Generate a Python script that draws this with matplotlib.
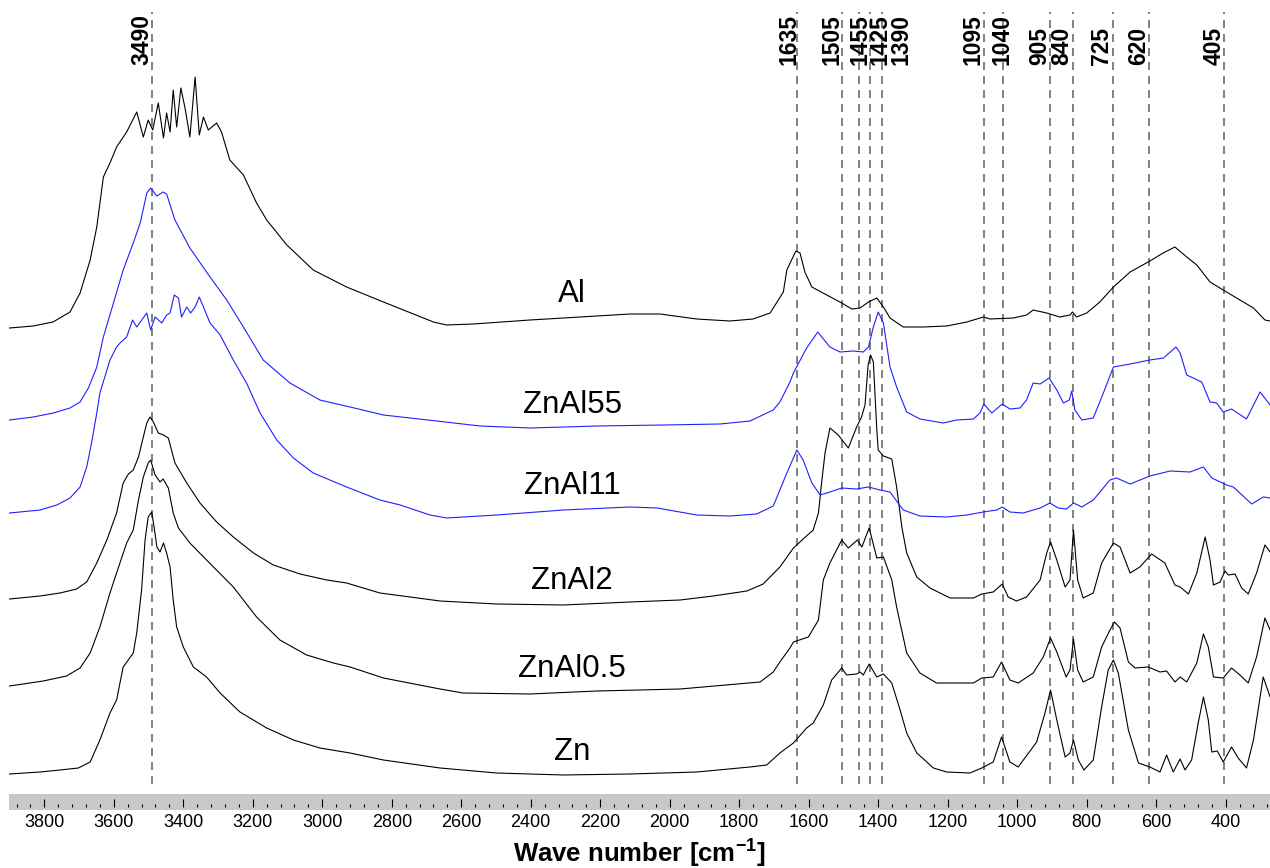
import matplotlib
matplotlib.use("Agg")
import matplotlib.pyplot as plt
from matplotlib.patches import Rectangle
from matplotlib.ticker import MultipleLocator
from matplotlib.transforms import offset_copy

plt.rcParams["font.family"] = "Liberation Sans"
plt.rcParams["mathtext.fontset"] = "custom"
plt.rcParams["mathtext.rm"] = "Liberation Sans"
plt.rcParams["mathtext.bf"] = "Liberation Sans:bold"

# ---------------------------------------------------------------------------
# FTIR spectra (wave number in cm-1, intensity in a.u. above each baseline)
# ---------------------------------------------------------------------------
zn_wn = [3900, 3812, 3755, 3702, 3668, 3640, 3611, 3592, 3573, 3544,
         3534, 3520, 3510, 3501, 3491, 3484, 3476, 3467, 3457, 3448,
         3438, 3429, 3419, 3400, 3371, 3333, 3294, 3237, 3160, 3083,
         3007, 2920, 2824, 2661, 2498, 2306, 2114, 1922, 1769, 1721,
         1683, 1644, 1606, 1587, 1558, 1534, 1505, 1491, 1462, 1452,
         1443, 1426, 1404, 1385, 1361, 1337, 1318, 1289, 1241, 1203,
         1136, 1102, 1069, 1045, 1021, 997, 944, 920, 904, 886,
         862, 848, 838, 824, 808, 781, 757, 738, 723, 709,
         680, 651, 618, 589, 570, 551, 531, 517, 498, 479,
         464, 450, 440, 424, 407, 383, 364, 340, 320, 292,
         272]
zn_int = [0, 2, 4, 6, 12, 34, 61, 74, 107, 121,
          141, 184, 234, 257, 262, 247, 227, 222, 231, 221,
          207, 174, 147, 127, 107, 97, 81, 62, 46, 34,
          26, 21, 14, 6, 1, -1, 0, 2, 7, 9,
          21, 31, 46, 51, 69, 94, 106, 99, 100, 102,
          99, 110, 97, 100, 91, 64, 41, 21, 6, 2,
          1, 6, 12, 37, 12, 7, 32, 61, 84, 54,
          17, 21, 34, 14, 4, 14, 67, 104, 114, 101,
          44, 11, 7, 2, 19, 2, 15, 4, 14, 51,
          77, 54, 22, 23, 12, 27, 16, 6, 34, 97,
          77]

znal05_wn = [3900, 3803, 3736, 3697, 3668, 3640, 3611, 3592, 3563, 3544,
             3529, 3515, 3501, 3494, 3481, 3467, 3458, 3443, 3429, 3414,
             3381, 3333, 3256, 3189, 3122, 3045, 2968, 2920, 2824, 2661,
             2595, 2402, 2210, 1970, 1740, 1702, 1683, 1654, 1644, 1601,
             1577, 1572, 1558, 1539, 1505, 1486, 1460, 1447, 1426, 1404,
             1385, 1361, 1347, 1318, 1280, 1232, 1165, 1126, 1102, 1069,
             1045, 1021, 997, 954, 925, 904, 886, 859, 848, 838,
             826, 810, 781, 757, 733, 720, 704, 680, 661, 623,
             589, 570, 546, 531, 512, 483, 464, 450, 435, 407,
             383, 359, 335, 311, 287, 272]
znal05_int = [0, 5, 10, 18, 33, 59, 93, 113, 143, 156,
              186, 209, 223, 226, 211, 204, 207, 198, 173, 158,
              143, 126, 99, 69, 46, 31, 23, 19, 8, -3,
              -7, -8, -5, -3, 4, 14, 24, 38, 44, 49,
              63, 66, 106, 123, 146, 138, 146, 139, 158, 128,
              129, 106, 79, 33, 13, 3, 3, 3, 8, 9,
              24, 6, 3, 13, 29, 48, 34, 9, 16, 47,
              16, 4, 9, 39, 56, 64, 58, 24, 18, 19,
              14, 15, 4, 9, 4, 23, 52, 39, 9, 8,
              18, 11, 3, 29, 68, 56]

znal2_wn = [3900, 3812, 3755, 3707, 3678, 3649, 3620, 3592, 3573, 3558,
            3544, 3529, 3515, 3505, 3496, 3486, 3472, 3457, 3443, 3424,
            3390, 3352, 3304, 3256, 3198, 3141, 3064, 2987, 2930, 2834,
            2747, 2661, 2498, 2306, 2114, 1970, 1875, 1778, 1731, 1683,
            1644, 1616, 1587, 1572, 1563, 1553, 1539, 1515, 1486, 1462,
            1448, 1438, 1429, 1422, 1414, 1404, 1400, 1385, 1361, 1347,
            1332, 1318, 1289, 1251, 1193, 1126, 1102, 1069, 1043, 1026,
            1002, 973, 934, 915, 904, 886, 862, 848, 838, 826,
            810, 781, 757, 723, 704, 675, 647, 613, 575, 546,
            531, 507, 483, 459, 445, 435, 416, 402, 392, 373,
            354, 335, 311, 287, 272]
znal2_int = [0, 3, 6, 10, 17, 36, 59, 86, 116, 125,
             129, 142, 162, 176, 182, 177, 166, 164, 161, 136,
             116, 96, 77, 62, 46, 34, 25, 19, 16, 6,
             2, -2, -5, -6, -3, -1, 3, 8, 15, 32,
             51, 60, 69, 86, 116, 146, 171, 164, 151, 172,
             182, 194, 234, 244, 237, 169, 149, 143, 140, 112,
             72, 46, 22, 11, 1, 1, 5, 7, 15, 2,
             -2, 2, 19, 46, 57, 39, 12, 19, 69, 19,
             1, 6, 36, 56, 52, 26, 32, 45, 36, 14,
             12, 5, 26, 62, 39, 14, 17, 28, 24, 25,
             11, 5, 26, 54, 47]

znal11_wn = [3900, 3812, 3764, 3726, 3697, 3678, 3664, 3649, 3640, 3611,
             3592, 3582, 3563, 3546, 3534, 3505, 3494, 3481, 3462, 3448,
             3438, 3426, 3414, 3405, 3390, 3379, 3366, 3354, 3342, 3323,
             3294, 3256, 3218, 3179, 3131, 3083, 3026, 2930, 2834, 2776,
             2690, 2642, 2498, 2306, 2114, 2036, 1922, 1827, 1750, 1702,
             1683, 1663, 1634, 1616, 1591, 1567, 1539, 1505, 1462, 1428,
             1395, 1366, 1328, 1280, 1203, 1145, 1098, 1059, 1043, 1021,
             983, 934, 906, 882, 858, 838, 814, 781, 733, 714,
             675, 618, 560, 503, 464, 440, 397, 378, 325, 292,
             272]
znal11_int = [0, 3, 8, 15, 26, 46, 70, 100, 120, 153,
              166, 170, 176, 193, 186, 200, 183, 196, 190, 198,
              200, 218, 215, 196, 206, 200, 206, 216, 206, 190,
              178, 153, 130, 100, 73, 55, 40, 26, 13, 8,
              -2, -5, -2, 3, 6, 5, -2, -3, -1, 7,
              23, 40, 63, 53, 30, 18, 21, 25, 24, 26,
              23, 21, 3, -3, -4, -2, 1, 3, 6, 1,
              0, 5, 10, 5, 4, 10, 6, 13, 33, 35,
              29, 37, 42, 41, 46, 35, 28, 26, 9, 16,
              15]

znal55_wn = [3900, 3832, 3774, 3726, 3697, 3673, 3649, 3630, 3601, 3573,
             3544, 3524, 3505, 3494, 3476, 3458, 3448, 3424, 3381, 3323,
             3275, 3227, 3170, 3093, 3007, 2920, 2824, 2671, 2546, 2402,
             2210, 2018, 1855, 1769, 1702, 1683, 1654, 1644, 1606, 1574,
             1539, 1510, 1472, 1443, 1428, 1414, 1400, 1385, 1366, 1347,
             1318, 1280, 1213, 1174, 1126, 1107, 1096, 1073, 1043, 1021,
             992, 973, 954, 934, 908, 886, 867, 850, 843, 834,
             814, 781, 752, 723, 675, 618, 579, 543, 531, 512,
             469, 445, 426, 407, 383, 340, 301, 272]
znal55_int = [0, 3, 7, 12, 18, 32, 53, 83, 117, 150,
              177, 197, 227, 232, 224, 228, 226, 200, 172, 143,
              120, 93, 60, 37, 20, 13, 5, -1, -6, -8,
              -6, -5, -4, -1, 10, 18, 38, 47, 72, 88,
              73, 68, 69, 68, 73, 93, 108, 97, 53, 33,
              8, 1, -3, 0, 1, 7, 16, 7, 16, 11,
              12, 20, 37, 36, 42, 30, 17, 20, 29, 10,
              0, 2, 27, 53, 56, 60, 62, 73, 67, 45,
              38, 18, 17, 8, 11, 1, 28, 15]

al_wn = [3900, 3832, 3775, 3726, 3697, 3668, 3649, 3630, 3611, 3592,
         3563, 3534, 3515, 3501, 3488, 3472, 3457, 3448, 3438, 3429,
         3419, 3407, 3395, 3381, 3366, 3354, 3342, 3328, 3304, 3290,
         3266, 3227, 3189, 3160, 3102, 3026, 2930, 2824, 2680, 2642,
         2565, 2402, 2258, 2114, 2028, 1922, 1827, 1760, 1711, 1673,
         1663, 1637, 1625, 1611, 1591, 1548, 1505, 1476, 1452, 1428,
         1404, 1385, 1366, 1328, 1270, 1203, 1145, 1097, 1078, 1011,
         973, 954, 915, 877, 848, 841, 829, 800, 762, 723,
         675, 618, 580, 546, 512, 483, 445, 407, 359, 320,
         287, 272]
al_int = [2, 4, 8, 18, 37, 70, 103, 153, 167, 183,
          198, 218, 193, 210, 200, 227, 192, 217, 198, 240,
          203, 242, 222, 193, 253, 195, 213, 200, 207, 198,
          170, 155, 127, 110, 85, 60, 43, 28, 8, 5,
          6, 10, 13, 16, 16, 11, 9, 11, 17, 38,
          60, 79, 77, 58, 43, 35, 27, 21, 22, 28,
          32, 23, 12, 3, 3, 4, 8, 13, 11, 12,
          15, 20, 17, 13, 15, 18, 13, 17, 28, 43,
          58, 69, 77, 83, 73, 65, 48, 40, 30, 22,
          10, 9]

samples = ["Zn", "ZnAl0.5", "ZnAl2", "ZnAl11", "ZnAl55", "Al"]
spectra = [(zn_wn, zn_int), (znal05_wn, znal05_int), (znal2_wn, znal2_int),
           (znal11_wn, znal11_int), (znal55_wn, znal55_int), (al_wn, al_int)]
offsets = [26, 114, 201, 287, 380, 470]
colors = ["black", "black", "black", "#2020ff", "#2020ff", "black"]
label_y = [48, 131, 219, 314, 395, 506]

peaks = [3490, 1635, 1505, 1455, 1425, 1390, 1095, 1040, 905, 840, 725, 620, 405]
# horizontal shift of each band label from its line (pixels)
peak_dx = [-10, -8, -10, 1, 10, 19, -11, -1, -10, -11, -11, -11, -10]

# ---------------------------------------------------------------------------
# Figure
# ---------------------------------------------------------------------------
fig = plt.figure(figsize=(12.7, 8.68), dpi=100)
ax = fig.add_axes([9 / 1270, 61 / 868, 1261 / 1270, 807 / 868])
ax.patch.set_visible(False)

for (wn, inten), off, col in zip(spectra, offsets, colors):
    ax.plot(wn, [v + off for v in inten], color=col, lw=0.8, zorder=3)

for name, y in zip(samples, label_y):
    ax.text(2281, y, name, fontsize=22.5, ha="center", va="center", zorder=4)

# marker lines for the assigned bands
ax.vlines(peaks, 16, 788, colors="#808080", linestyles=(0, (4.1, 3.1)),
          lw=1.4, zorder=2)
for p, dx in zip(peaks, peak_dx):
    tr = offset_copy(ax.transData, fig=fig, x=dx, y=0, units="dots")
    ax.text(p, 735, str(p), rotation=90, ha="center", va="bottom",
            fontsize=16.5, fontweight="bold", transform=tr)

ax.set_xlim(3901.6, 272.4)
ax.set_ylim(-7, 800)

# grey scale bar with the ticks
ax.add_patch(Rectangle((0, -0.0037), 1, 0.0198, transform=ax.transAxes,
                       facecolor="#c8c8c8", edgecolor="none", clip_on=False,
                       zorder=0))
for s in ax.spines.values():
    s.set_visible(False)
ax.set_yticks([])
ax.xaxis.set_major_locator(MultipleLocator(200))
ax.xaxis.set_minor_locator(MultipleLocator(40))
ax.tick_params(axis="x", which="major", direction="in", length=6, width=0.8,
               labelsize=13, pad=5)
ax.tick_params(axis="x", which="minor", direction="in", length=2.5, width=0.8)

ax.set_xlabel(r"Wave number [cm$^{\mathbf{-1}}$]", fontsize=18.5,
              fontweight="bold", labelpad=4)

fig.savefig("out.png", dpi=100)
